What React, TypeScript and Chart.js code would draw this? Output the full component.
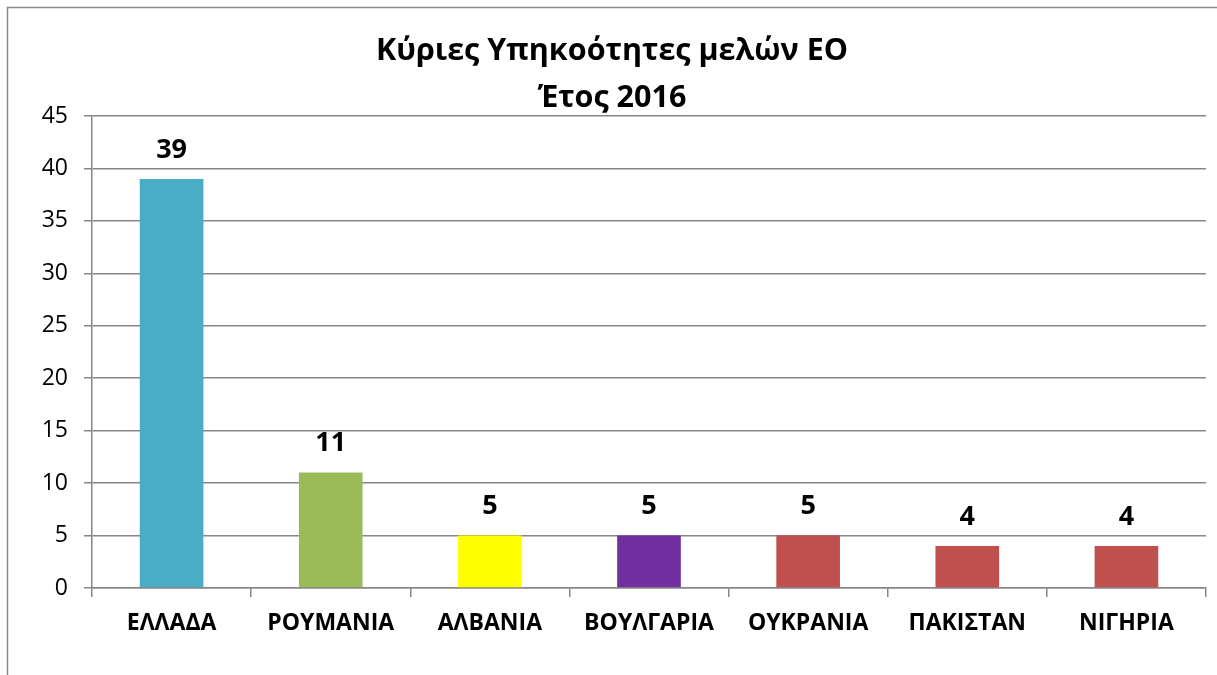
import React, { useEffect, useRef } from "react";
import { Chart, registerables } from "chart.js";

Chart.register(...registerables);

const categories = ["ΕΛΛΑΔΑ", "ΡΟΥΜΑΝΙΑ", "ΑΛΒΑΝΙΑ", "ΒΟΥΛΓΑΡΙΑ", "ΟΥΚΡΑΝΙΑ", "ΠΑΚΙΣΤΑΝ", "ΝΙΓΗΡΙΑ"];
const values = [39, 11, 5, 5, 5, 4, 4];
const barColors = ["#4BACC6", "#9BBB59", "#FFFF00", "#7030A0", "#C0504D", "#C0504D", "#C0504D"];
const titleLines = ["Κύριες Υπηκοότητες μελών ΕΟ", "Έτος 2016"];

const FONT = "'Open Sans', 'Noto Sans', sans-serif";

const decorPlugin = {
  id: "decor",
  beforeDraw(chart: any) {
    const ctx = chart.ctx;
    ctx.save();
    ctx.fillStyle = "#ffffff";
    ctx.fillRect(0, 0, chart.width, chart.height);
    ctx.strokeStyle = "#868686";
    ctx.lineWidth = 1.5;
    ctx.beginPath();
    ctx.moveTo(7.5, chart.height);
    ctx.lineTo(7.5, 7.5);
    ctx.lineTo(chart.width, 7.5);
    ctx.stroke();
    ctx.restore();
  },
  afterDraw(chart: any) {
    const ctx = chart.ctx;
    ctx.save();
    ctx.fillStyle = "#000000";
    ctx.textAlign = "center";
    ctx.textBaseline = "middle";
    ctx.font = `bold 30.5px ${FONT}`;
    ctx.fillText(titleLines[0], 612, 51);
    ctx.fillText(titleLines[1], 612, 98);

    const meta = chart.getDatasetMeta(0);
    ctx.font = `bold 27px ${FONT}`;
    meta.data.forEach((bar: any, i: number) => {
      ctx.fillText(String(chart.data.datasets[0].data[i]), bar.x, bar.y - 29);
    });
    ctx.restore();
  },
};

export default function App() {
  const ref = useRef<HTMLCanvasElement>(null);
  useEffect(() => {
    if (!ref.current) return;
    const chart = new Chart(ref.current, {
      type: "bar",
      data: {
        labels: categories,
        datasets: [
          {
            data: values,
            backgroundColor: barColors,
            categoryPercentage: 1,
            barPercentage: 0.4,
          },
        ],
      },
      options: {
        responsive: false,
        animation: false,
        devicePixelRatio: 1,
        layout: { padding: { top: 116, right: 11, bottom: 0, left: 0 } },
        plugins: {
          legend: { display: false },
          title: { display: false },
          tooltip: { enabled: false },
        },
        scales: {
          x: {
            afterFit: (s: any) => {
              s.height = 87;
            },
            grid: {
              drawOnChartArea: false,
              drawTicks: true,
              tickLength: 9,
              color: "#868686",
              lineWidth: 1.5,
              offset: true,
            },
            border: { color: "#868686", width: 1.5 },
            ticks: {
              color: "#000000",
              padding: 13,
              maxRotation: 0,
              font: { family: FONT, size: 23, weight: "bold" },
            },
          },
          y: {
            min: 0,
            max: 45,
            afterFit: (s: any) => {
              s.width = 92;
            },
            ticks: {
              stepSize: 5,
              color: "#000000",
              padding: 16,
              font: { family: FONT, size: 23 },
            },
            grid: {
              color: "#868686",
              lineWidth: 1.5,
              tickLength: 8,
            },
            border: { color: "#868686", width: 1.5 },
          },
        },
      },
      plugins: [decorPlugin],
    });
    return () => chart.destroy();
  }, []);
  return (
    <div style={{ position: "absolute", left: 0, top: 0, width: 1217, height: 675 }}>
      <canvas ref={ref} width={1217} height={675} style={{ display: "block" }} />
    </div>
  );
}
